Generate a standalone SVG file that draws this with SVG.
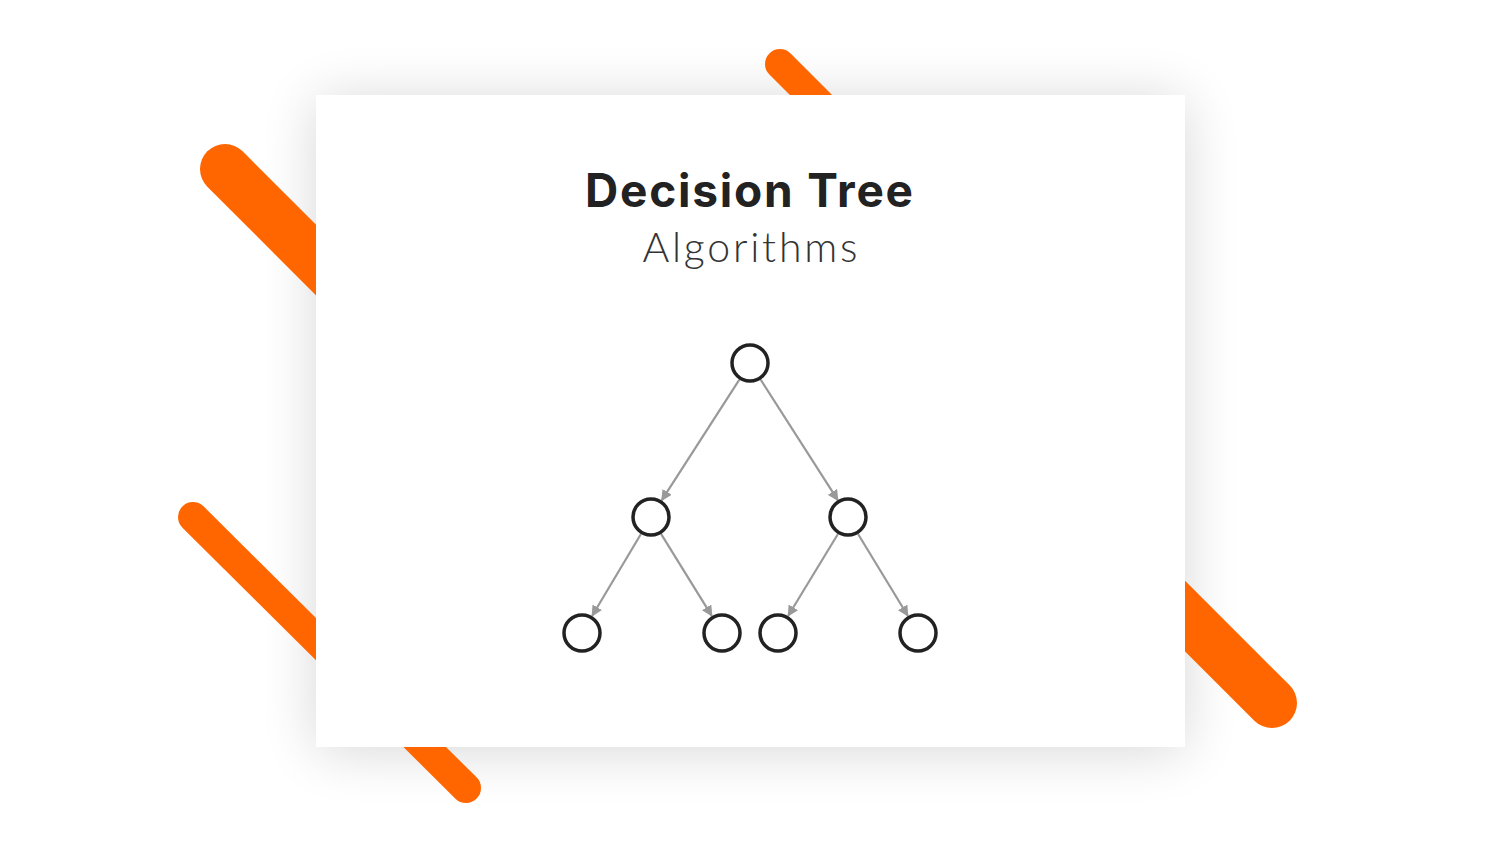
<svg xmlns="http://www.w3.org/2000/svg" width="1500" height="844" viewBox="0 0 1500 844">
<defs>
<filter id="shadow" x="-20%" y="-20%" width="140%" height="140%">
<feGaussianBlur in="SourceAlpha" stdDeviation="28"/>
<feOffset dy="4"/>
<feComponentTransfer><feFuncA type="linear" slope="0.16"/></feComponentTransfer>
</filter>
<marker id="arrow" viewBox="0 0 10 10" refX="9" refY="5" markerWidth="11" markerHeight="11" markerUnits="userSpaceOnUse" orient="auto">
<path d="M0,0 L10,5 L0,10 Z" fill="#999"/>
</marker>
<style>
.bar{stroke:#ff6600;stroke-linecap:round;fill:none}
.node{fill:#fff;stroke:#222;stroke-width:3.5}
.edge{stroke:#999;stroke-width:2.2;fill:none;marker-end:url(#arrow)}
.title{font-family:"Inter","Liberation Sans",sans-serif;font-weight:700;font-size:46px;fill:#222}
.sub{font-family:"Lato","Inter","Liberation Sans",sans-serif;font-weight:300;font-size:41px;fill:#333}
</style>
</defs>
<rect width="1500" height="844" fill="#fff"/>
<rect id="card-shadow" x="316" y="95" width="869" height="652" fill="#000" filter="url(#shadow)"/>
<g id="bars">
<line class="bar" x1="225" y1="169" x2="420" y2="364" stroke-width="50"/>
<line class="bar" x1="780" y1="64" x2="900" y2="184" stroke-width="30"/>
<line class="bar" x1="193" y1="517" x2="466" y2="788" stroke-width="30"/>
<line class="bar" x1="1080" y1="511" x2="1272" y2="703" stroke-width="50"/>
</g>
<rect id="card" x="316" y="95" width="869" height="652" fill="#fff"/>
<g id="title">
<text class="title" x="749" y="207" text-anchor="middle" textLength="328" lengthAdjust="spacing">Decision Tree</text>
<text class="sub" x="750" y="262" text-anchor="middle" textLength="215" lengthAdjust="spacing">Algorithms</text>
</g>
<g id="connectors">
<line class="edge" x1="739.2" y1="379.8" x2="661.8" y2="500.2"/>
<line class="edge" x1="760.8" y1="379.8" x2="837.8" y2="500.2"/>
<line class="edge" x1="640.8" y1="534.2" x2="592.2" y2="615.8"/>
<line class="edge" x1="661.2" y1="534.2" x2="711.8" y2="615.8"/>
<line class="edge" x1="837.8" y1="534.2" x2="788.2" y2="615.8"/>
<line class="edge" x1="858.2" y1="534.2" x2="907.8" y2="615.8"/>
</g>
<g id="node-root"><circle class="node" cx="750" cy="363" r="18"/></g>
<g id="node-l"><circle class="node" cx="651" cy="517" r="18"/></g>
<g id="node-r"><circle class="node" cx="848" cy="517" r="18"/></g>
<g id="node-ll"><circle class="node" cx="582" cy="633" r="18"/></g>
<g id="node-lr"><circle class="node" cx="722" cy="633" r="18"/></g>
<g id="node-rl"><circle class="node" cx="778" cy="633" r="18"/></g>
<g id="node-rr"><circle class="node" cx="918" cy="633" r="18"/></g>
</svg>
